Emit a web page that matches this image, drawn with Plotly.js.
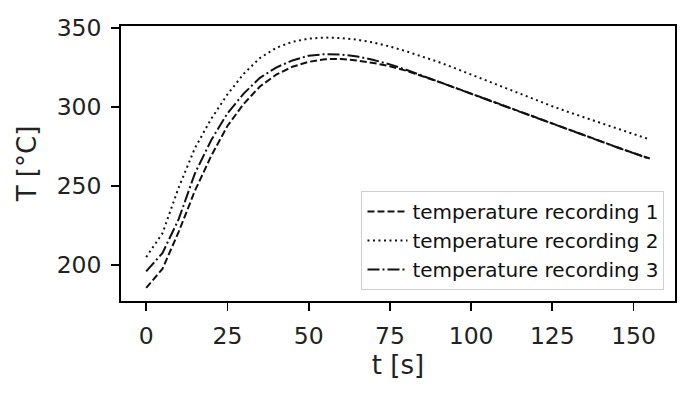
<!DOCTYPE html>
<html>
<head>
<meta charset="utf-8">
<script src="https://cdn.plot.ly/plotly-3.0.1.min.js"></script>
<style>
  html, body { margin: 0; padding: 0; background: #fff; }
  #chart { width: 698px; height: 397px; }
</style>
</head>
<body>
<div id="chart"></div>
<script>
// time in seconds
const time = [0, 5, 10, 15, 20, 25, 30, 35, 40, 45, 50, 55, 60, 65, 70, 75,
  80, 85, 90, 95, 100, 105, 110, 115, 120, 125, 130, 135, 140, 145, 150, 155];

const rec1 = [185.5, 197.5, 221, 247, 269, 288, 302, 313, 320.5, 325.5, 328.6, 330.3, 330.4, 329.4, 327.9, 325.8,
  323, 319.6, 316, 312.3, 308.5, 304.7, 300.9, 297, 293.1, 289.3, 285.5, 281.8, 278.1, 274.5, 270.9, 267.4];

const rec2 = [205, 220, 249, 274, 292.5, 308, 321, 331, 337.5, 341.3, 343.3, 344, 343.7, 342.6, 340.8, 338.3,
  335.3, 332, 328.5, 324.6, 320.5, 316.5, 312.5, 308.4, 304.4, 300.5, 296.8, 293.2, 289.7, 286.3, 282.9, 279.5];

const rec3 = [196, 207.5, 229, 258, 279, 296, 308.5, 318.5, 325, 329.5, 332.5, 333.5, 333.2, 332, 329.8, 327,
  323.6, 319.9, 316.1, 312.3, 308.5, 304.6, 300.8, 297, 293.2, 289.3, 285.4, 281.6, 278, 274.4, 270.8, 267.2];

const names = ["temperature recording 1", "temperature recording 2", "temperature recording 3"];

const font = "DejaVu Sans, sans-serif";

const traces = [
  { x: time, y: rec1, mode: "lines", name: names[0],
    line: { color: "#111", width: 2, dash: "7px,3px" } },
  { x: time, y: rec2, mode: "lines", name: names[1],
    line: { color: "#111", width: 2, dash: "2px,3.5px" } },
  { x: time, y: rec3, mode: "lines", name: names[2],
    line: { color: "#111", width: 2, dash: "12px,3px,2px,3px" } }
];

const axisBase = {
  showgrid: false,
  zeroline: false,
  showline: true,
  mirror: true,
  linecolor: "#000",
  linewidth: 1.8,
  ticks: "outside",
  ticklen: 8,
  tickwidth: 1.8,
  tickcolor: "#000",
  tickfont: { family: font, size: 23.5, color: "#222" }
};

const layout = {
  width: 698,
  height: 397,
  margin: { l: 121, r: 23, t: 26, b: 96 },
  paper_bgcolor: "#fff",
  plot_bgcolor: "#fff",
  showlegend: true,
  xaxis: Object.assign({}, axisBase, {
    range: [-7.75, 162.75],
    tickvals: [0, 25, 50, 75, 100, 125, 150],
    ticklabelstandoff: 5,
    title: { text: "t [s]", font: { family: font, size: 26, color: "#222" }, standoff: 6 }
  }),
  yaxis: Object.assign({}, axisBase, {
    range: [177.2, 351.3],
    tickvals: [200, 250, 300, 350],
    ticklabelstandoff: 5,
    title: { text: "T [°C]", font: { family: font, size: 26, color: "#222" }, standoff: 12 }
  }),
  legend: {
    x: 0.981, y: 0.04, xanchor: "right", yanchor: "bottom",
    bgcolor: "rgba(255,255,255,0.8)",
    bordercolor: "#d0d0d0",
    borderwidth: 1,
    itemwidth: 40,
    font: { family: font, size: 20, color: "#111" },
    tracegroupgap: 0
  }
};

Plotly.newPlot("chart", traces, layout, { displayModeBar: false, staticPlot: true });
</script>
</body>
</html>
